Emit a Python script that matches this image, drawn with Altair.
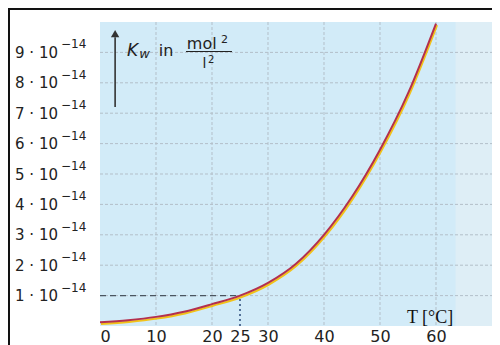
import altair as alt
import pandas as pd

# ---- data ----
temps = [0, 5, 10, 15, 20, 25, 30, 35, 40, 45, 50, 55, 60]
kw = [0.12, 0.19, 0.30, 0.47, 0.72, 1.0, 1.42, 2.05, 3.0, 4.25, 5.8, 7.65, 9.95]  # in 1e-14 mol²/l²
x_ticks = [0, 10, 20, 25, 30, 40, 50, 60]
y_ticks = [1, 2, 3, 4, 5, 6, 7, 8, 9]
grid_x = [10, 20, 30, 40, 50, 60]
y_main = [f"{v} · 10" for v in y_ticks]
y_sup = ["−14"] * len(y_ticks)
ref_T = 25
ref_K = 1.0

W, H = 392, 304
FONT = "DejaVu Sans"
xs = alt.Scale(domain=[0, 70], nice=False, zero=False)
ys = alt.Scale(domain=[0, 10], nice=False, zero=False)
xaxis = alt.Axis(values=x_ticks, grid=False, domain=False, ticks=False,
                 labelFontSize=16, labelPadding=2, title=None,
                 labelColor="#222222", labelFont=FONT, labelOverlap=False)


def X(f):
    return alt.X(f, scale=xs, axis=xaxis)


def Y(f):
    return alt.Y(f, scale=ys, axis=None)


curve = pd.DataFrame({"T": temps, "K": kw})
gx = pd.DataFrame({"T": grid_x})
gy = pd.DataFrame({"K": y_ticks})
ylab = pd.DataFrame({"K": y_ticks, "main": y_main, "sup": y_sup})

# slightly greyer strip at the right edge of the scanned background
strip = pd.DataFrame({"T0": [63.5], "T1": [70], "K0": [0], "K1": [10]})
strip_rect = alt.Chart(strip).mark_rect(color="#eef2f4", opacity=0.45).encode(
    x=X("T0:Q"), x2="T1:Q", y=Y("K0:Q"), y2="K1:Q")

grid_v = alt.Chart(gx).mark_rule(color="#b3bfc9", strokeDash=[3, 2], strokeWidth=1).encode(
    x=X("T:Q"), y=alt.value(0), y2=alt.value(H))
grid_h = alt.Chart(gy).mark_rule(color="#b3bfc9", strokeDash=[3, 2], strokeWidth=1).encode(
    y=Y("K:Q"), x=alt.value(0), x2=alt.value(W))

refdf = pd.DataFrame({"T0": [0], "T": [ref_T], "K0": [0], "K": [ref_K]})
ref_h = alt.Chart(refdf).mark_rule(color="#4a5560", strokeDash=[6, 4], strokeWidth=1.3).encode(
    x=X("T0:Q"), x2="T:Q", y=Y("K:Q"))
ref_v = alt.Chart(refdf).mark_rule(color="#2b4a78", strokeDash=[2, 3], strokeWidth=1.5).encode(
    x=X("T:Q"), y=Y("K0:Q"), y2="K:Q")

line_y = alt.Chart(curve).mark_line(color="#f2c21a", strokeWidth=2.2, xOffset=1, yOffset=1.6,
                                    interpolate="monotone").encode(x=X("T:Q"), y=Y("K:Q"))
line_r = alt.Chart(curve).mark_line(color="#b3304e", strokeWidth=2.0,
                                    interpolate="monotone").encode(x=X("T:Q"), y=Y("K:Q"))

lab_main = alt.Chart(ylab).mark_text(align="right", baseline="alphabetic", dy=5.5, fontSize=15,
                                     font=FONT, color="#222222").encode(
    y=Y("K:Q"), x=alt.value(-42), text="main:N")
lab_sup = alt.Chart(ylab).mark_text(align="left", baseline="alphabetic", dy=-4, fontSize=12,
                                    font=FONT, color="#222222").encode(
    y=Y("K:Q"), x=alt.value(-39), text="sup:N")

# arrow
arrow = pd.DataFrame({"T": [2.7], "K0": [7.2], "K1": [9.5], "Kt": [9.62]})
arrow_line = alt.Chart(arrow).mark_rule(color="#333333", strokeWidth=1.6).encode(
    x=X("T:Q"), y=Y("K0:Q"), y2="K1:Q")
arrow_head = alt.Chart(arrow).mark_point(shape="triangle-up", filled=True, size=70, color="#333333",
                                         opacity=1).encode(x=X("T:Q"), y=Y("Kt:Q"))

# y title pieces: text, T, K, fontsize, italic
title_texts = ["K", "w", "in", "mol", "2", "l", "2"]
title_T = [4.8, 7.0, 10.5, 15.5, 21.6, 18.3, 19.3]
title_K = [8.88, 8.82, 8.88, 9.12, 9.31, 8.5, 8.64]
title_size = [17, 13, 16, 16, 11, 14, 10]
title_ital = [True, True, False, False, False, False, False]

title_layers = []
for txt, t, k, s, it in zip(title_texts, title_T, title_K, title_size, title_ital):
    d = pd.DataFrame({"text": [txt], "T": [t], "K": [k]})
    kw_args = dict(align="left", baseline="alphabetic", font=FONT, fontSize=s, color="#222222")
    if it:
        kw_args["fontStyle"] = "italic"
    title_layers.append(alt.Chart(d).mark_text(**kw_args).encode(x=X("T:Q"), y=Y("K:Q"), text="text:N"))

frac = pd.DataFrame({"T0": [15.36], "T1": [23.57], "K": [9.03]})
frac_line = alt.Chart(frac).mark_rule(color="#222222", strokeWidth=1.2).encode(
    x=X("T0:Q"), x2="T1:Q", y=Y("K:Q"))

xt = pd.DataFrame({"text": ["T [°C]"], "T": [54.8], "K": [0.09]})
x_title = alt.Chart(xt).mark_text(align="left", baseline="alphabetic", font="Liberation Serif",
                                  fontSize=18, color="#111111").encode(
    x=X("T:Q"), y=Y("K:Q"), text="text:N")

# outer frame (top and left border)
frame_top = alt.Chart(gx).mark_rule(color="#111111", strokeWidth=2).encode(
    x=alt.value(-92), x2=alt.value(W + 20), y=alt.value(-13.5))
frame_left = alt.Chart(gx).mark_rule(color="#111111", strokeWidth=2).encode(
    x=alt.value(-91.5), y=alt.value(-13.5), y2=alt.value(H + 40))

chart = alt.layer(
    strip_rect, grid_v, grid_h, ref_h, ref_v, line_y, line_r, lab_main, lab_sup,
    arrow_line, arrow_head, *title_layers, frac_line, x_title, frame_top, frame_left
).properties(
    width=W, height=H,
    background="white",
    autosize=alt.AutoSizeParams(type="none"),
    padding={"left": 92, "top": 14, "right": 0, "bottom": 21},
).configure_view(
    fill="#d2ebf8", stroke=None
)

chart.save("out.html", embed_options={"renderer": "svg", "actions": False})
